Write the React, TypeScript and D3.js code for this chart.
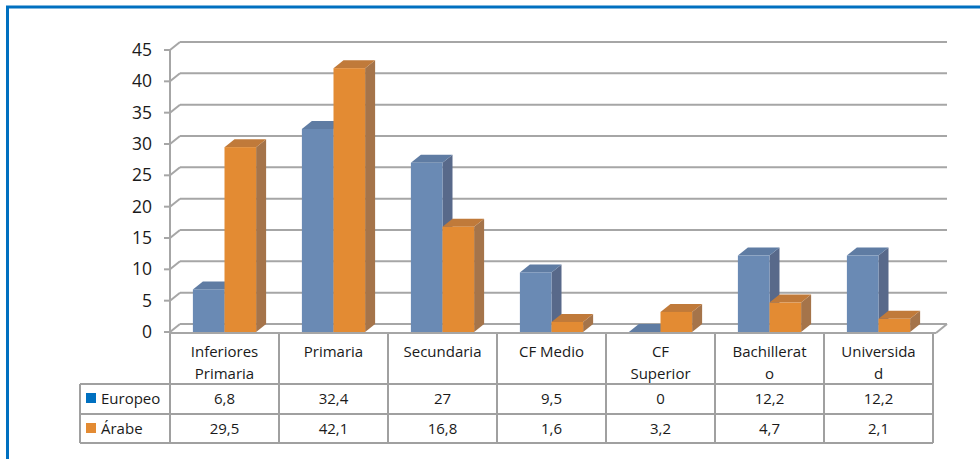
import React from "react";
import * as d3 from "d3";

const categories: string[][] = [
  ["Inferiores", "Primaria"],
  ["Primaria"],
  ["Secundaria"],
  ["CF Medio"],
  ["CF", "Superior"],
  ["Bachillerat", "o"],
  ["Universida", "d"],
];
const europeo: number[] = [6.8, 32.4, 27, 9.5, 0, 12.2, 12.2];
const arabe: number[] = [29.5, 42.1, 16.8, 1.6, 3.2, 4.7, 2.1];
const europeoLabels: string[] = ["6,8", "32,4", "27", "9,5", "0", "12,2", "12,2"];
const arabeLabels: string[] = ["29,5", "42,1", "16,8", "1,6", "3,2", "4,7", "2,1"];
const yTicks: number[] = [0, 5, 10, 15, 20, 25, 30, 35, 40, 45];
const seriesNames: string[] = ["Europeo", "Árabe"];

const W = 980;
const H = 459;
const FONT = "'Open Sans', 'Noto Sans', sans-serif";

const x0 = 170;
const x1 = 933;
const DX = 10;
const DY = -8;

const seriesStyles = [
  { front: "#6A8AB4", side: "#58698A", top: "#5F7CA3", legend: "#0070C0" },
  { front: "#E38B33", side: "#A5744A", top: "#C07A3A", legend: "#E38B33" },
];

export default function App() {
  const x = d3
    .scaleBand<number>()
    .domain(d3.range(categories.length))
    .range([x0, x1]);
  const y = d3.scaleLinear().domain([0, 45]).range([332, 50]);
  const colW = x.bandwidth();
  const barW = colW * 0.29;

  const grid = "#A6A6A6";
  const tableLine = "#A0A0A0";

  const bars: React.ReactNode[] = [];
  categories.forEach((_, i) => {
    const cx = (x(i) as number) + colW / 2;
    [europeo, arabe].forEach((series, s) => {
      const v = series[i];
      const left = s === 0 ? cx - barW : cx;
      const right = left + barW;
      const top = y(v);
      const bottom = y(0);
      const st = seriesStyles[s];
      bars.push(
        <g key={`b-${i}-${s}`}>
          <polygon
            points={`${right},${bottom} ${right + DX},${bottom + DY} ${right + DX},${top + DY} ${right},${top}`}
            fill={st.side}
          />
          <polygon
            points={`${left},${top} ${right},${top} ${right + DX},${top + DY} ${left + DX},${top + DY}`}
            fill={st.top}
          />
          {v > 0 && (
            <rect x={left} y={top} width={barW} height={bottom - top} fill={st.front} />
          )}
        </g>
      );
    });
  });

  const headerTop = 334;
  const row1Top = 384;
  const row2Top = 414;
  const tableBottom = 443;
  const legendLeft = 80;

  return (
    <svg width={W} height={H} style={{ position: "absolute", left: 0, top: 0 }}>
      <rect x={0} y={0} width={W} height={H} fill="#ffffff" />
      {/* blue frame */}
      <line x1={7.5} y1={6} x2={7.5} y2={H} stroke="#0070C0" strokeWidth={3} />
      <line x1={6} y1={7} x2={W} y2={7} stroke="#0070C0" strokeWidth={3} />

      {/* gridlines: back wall + left wall diagonals */}
      {yTicks.map((t) => (
        <g key={`g-${t}`}>
          <line x1={x0 + DX} y1={y(t) + DY} x2={x1 + 14} y2={y(t) + DY} stroke={grid} strokeWidth={2} />
          <line x1={x0} y1={y(t)} x2={x0 + DX} y2={y(t) + DY} stroke={grid} strokeWidth={2} />
          <line x1={x0 - 6} y1={y(t)} x2={x0} y2={y(t)} stroke={grid} strokeWidth={2} />
          <text
            x={152}
            y={y(t)}
            dy="0.35em"
            textAnchor="end"
            fontFamily={FONT}
            fontSize={17.5}
            fill="#1a1a1a"
          >
            {t}
          </text>
        </g>
      ))}
      <line x1={x0} y1={y(45)} x2={x0} y2={y(0) + 2} stroke={grid} strokeWidth={2} />
      {/* floor */}
      <line x1={x0} y1={y(0) + 1} x2={x1 + 3} y2={y(0) + 1} stroke={grid} strokeWidth={2} />
      <line x1={x1 + 3} y1={y(0) + 1} x2={x1 + 14} y2={y(0) + DY} stroke={grid} strokeWidth={2} />

      {bars}

      {/* table */}
      <g stroke={tableLine} strokeWidth={2} fill="none">
        <line x1={x0} y1={headerTop} x2={x0} y2={tableBottom} />
        {categories.map((_, i) => (
          <line
            key={`v-${i}`}
            x1={(x(i) as number) + colW}
            y1={headerTop}
            x2={(x(i) as number) + colW}
            y2={tableBottom}
          />
        ))}
        <line x1={legendLeft} y1={row1Top} x2={x1} y2={row1Top} />
        <line x1={legendLeft} y1={row2Top} x2={x1} y2={row2Top} />
        <line x1={legendLeft} y1={tableBottom} x2={x1} y2={tableBottom} />
        <line x1={legendLeft} y1={row1Top} x2={legendLeft} y2={tableBottom} />
      </g>
      {categories.map((lines, i) => (
        <text
          key={`c-${i}`}
          x={(x(i) as number) + colW / 2}
          y={352}
          textAnchor="middle"
          fontFamily={FONT}
          fontSize={15}
          fill="#1a1a1a"
        >
          {lines.map((ln, k) => (
            <tspan key={k} x={(x(i) as number) + colW / 2} dy={k === 0 ? "0.35em" : 22}>
              {ln}
            </tspan>
          ))}
        </text>
      ))}
      {[europeoLabels, arabeLabels].map((labels, s) =>
        labels.map((lab, i) => (
          <text
            key={`v-${s}-${i}`}
            x={(x(i) as number) + colW / 2}
            y={(s === 0 ? row1Top : row2Top) + 15}
            dy="0.35em"
            textAnchor="middle"
            fontFamily={FONT}
            fontSize={15}
            fill="#1a1a1a"
          >
            {lab}
          </text>
        ))
      )}
      {seriesNames.map((name, s) => {
        const top = s === 0 ? row1Top : row2Top;
        return (
          <g key={`l-${s}`}>
            <rect x={86} y={top + 9} width={10} height={10} fill={seriesStyles[s].legend} />
            <text
              x={101}
              y={top + 15}
              dy="0.35em"
              fontFamily={FONT}
              fontSize={15}
              fill="#1a1a1a"
            >
              {name}
            </text>
          </g>
        );
      })}
    </svg>
  );
}
